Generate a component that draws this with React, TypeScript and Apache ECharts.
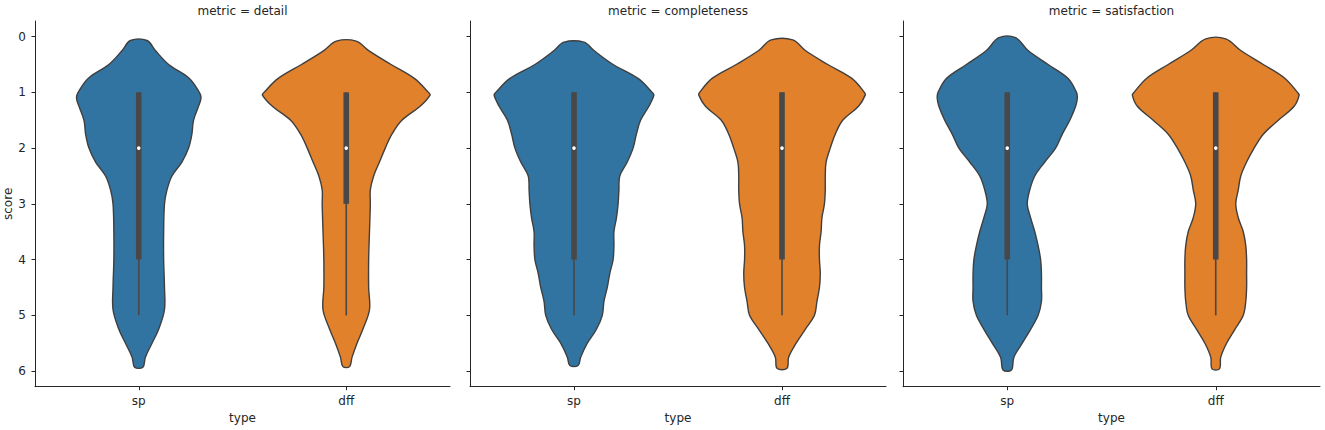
import React, { useEffect, useRef } from "react";
import * as echarts from "echarts";

const METRICS = ["detail", "completeness", "satisfaction"];
const TYPES = ["sp", "dff"];
const Y_TICKS = [0, 1, 2, 3, 4, 5, 6];
const COLORS = ["#3274a1", "#e1812c"];

// violin density profiles: [score, relative density]
const DETAIL_SP = [
  [0.07, 0.10], [0.25, 0.20], [0.5, 0.36], [0.75, 0.61], [1.0, 0.73], [1.1, 0.75],
  [1.25, 0.72], [1.5, 0.66], [1.75, 0.64], [2.0, 0.60], [2.25, 0.52], [2.5, 0.40],
  [2.75, 0.34], [3.0, 0.31], [3.5, 0.30], [4.0, 0.30], [4.5, 0.31], [4.9, 0.31],
  [5.25, 0.24], [5.5, 0.16], [5.75, 0.08], [5.93, 0.05],
];
const DETAIL_DFF = [
  [0.08, 0.12], [0.25, 0.27], [0.5, 0.54], [0.75, 0.82], [1.0, 0.99], [1.05, 1.01],
  [1.25, 0.89], [1.5, 0.67], [1.75, 0.55], [2.0, 0.47], [2.25, 0.40], [2.5, 0.33],
  [2.75, 0.29], [3.0, 0.29], [3.5, 0.28], [4.0, 0.27], [4.5, 0.27], [4.9, 0.28],
  [5.25, 0.20], [5.5, 0.13], [5.75, 0.07], [5.92, 0.04],
];
const COMPLETENESS_SP = [
  [0.1, 0.12], [0.25, 0.24], [0.5, 0.47], [0.75, 0.77], [1.0, 0.94], [1.05, 0.96],
  [1.25, 0.90], [1.5, 0.80], [1.75, 0.75], [2.0, 0.71], [2.25, 0.64], [2.5, 0.55],
  [2.75, 0.54], [3.0, 0.53], [3.25, 0.51], [3.5, 0.48], [3.75, 0.48], [4.0, 0.47],
  [4.25, 0.43], [4.5, 0.40], [4.75, 0.36], [5.0, 0.34], [5.25, 0.27], [5.5, 0.16],
  [5.75, 0.08], [5.9, 0.05],
];
const COMPLETENESS_DFF = [
  [0.06, 0.13], [0.25, 0.28], [0.5, 0.55], [0.75, 0.84], [1.0, 0.99], [1.05, 1.0],
  [1.25, 0.92], [1.5, 0.73], [1.75, 0.64], [2.0, 0.58], [2.25, 0.53], [2.5, 0.52],
  [2.75, 0.52], [3.0, 0.51], [3.25, 0.48], [3.5, 0.47], [3.75, 0.45], [4.0, 0.45],
  [4.25, 0.46], [4.5, 0.45], [4.75, 0.42], [5.0, 0.39], [5.25, 0.28], [5.5, 0.17],
  [5.75, 0.08], [5.95, 0.06],
];
const SATISFACTION_SP = [
  [0.02, 0.10], [0.25, 0.25], [0.5, 0.49], [0.75, 0.73], [1.0, 0.83], [1.1, 0.84],
  [1.25, 0.82], [1.5, 0.75], [1.75, 0.66], [2.0, 0.58], [2.25, 0.45], [2.5, 0.33],
  [2.75, 0.27], [3.0, 0.24], [3.25, 0.28], [3.5, 0.33], [3.75, 0.37], [4.0, 0.40],
  [4.25, 0.41], [4.5, 0.41], [4.75, 0.41], [5.0, 0.37], [5.25, 0.28], [5.5, 0.18],
  [5.75, 0.08], [5.98, 0.05],
];
const SATISFACTION_DFF = [
  [0.04, 0.12], [0.25, 0.30], [0.5, 0.57], [0.75, 0.83], [1.0, 0.98], [1.05, 1.0],
  [1.25, 0.94], [1.5, 0.75], [1.75, 0.57], [2.0, 0.46], [2.25, 0.37], [2.5, 0.30],
  [2.75, 0.27], [3.0, 0.24], [3.25, 0.27], [3.5, 0.33], [3.75, 0.36], [4.0, 0.37],
  [4.25, 0.37], [4.5, 0.37], [4.75, 0.36], [5.0, 0.33], [5.25, 0.23], [5.5, 0.13],
  [5.75, 0.06], [5.96, 0.045],
];

// box stats: [whiskerLow, q1, median, q3, whiskerHigh]
const DETAIL_SP_BOX = [1, 1, 2, 4, 5];
const DETAIL_DFF_BOX = [1, 1, 2, 3, 5];
const COMPLETENESS_SP_BOX = [1, 1, 2, 4, 5];
const COMPLETENESS_DFF_BOX = [1, 1, 2, 4, 5];
const SATISFACTION_SP_BOX = [1, 1, 2, 4, 5];
const SATISFACTION_DFF_BOX = [1, 1, 2, 4, 5];

const PROFILES = [
  [DETAIL_SP, DETAIL_DFF],
  [COMPLETENESS_SP, COMPLETENESS_DFF],
  [SATISFACTION_SP, SATISFACTION_DFF],
];
const BOXES = [
  [DETAIL_SP_BOX, DETAIL_DFF_BOX],
  [COMPLETENESS_SP_BOX, COMPLETENESS_DFF_BOX],
  [SATISFACTION_SP_BOX, SATISFACTION_DFF_BOX],
];

const GRIDS = [
  { left: 35, width: 415 },
  { left: 470, width: 416 },
  { left: 903, width: 417 },
];
const GRID_TOP = 21;
const GRID_HEIGHT = 365.7;
const TEXT = "#262626";
const LINE_GRAY = "#3f3f3f";
const BOX_GRAY = "#484848";
const FONT = "DejaVu Sans";

export default function App() {
  const ref = useRef<HTMLDivElement>(null);

  useEffect(() => {
    if (!ref.current) return;
    const chart = echarts.init(ref.current, undefined, { renderer: "svg" });

    const makeRender = (p: number) => (params: any, api: any) => {
      const i = params.dataIndex;
      const prof = PROFILES[p][i];
      const box = BOXES[p][i];
      const cx = api.coord([i, 0])[0];
      const bw = api.size([1, 0])[0];
      const scale = 0.4 * bw;
      const yOf = (s: number) => api.coord([i, s])[1];
      const leftPts = prof.map(([s, d]) => [cx - d * scale, yOf(s)]);
      const rightPts = prof
        .slice()
        .reverse()
        .map(([s, d]) => [cx + d * scale, yOf(s)]);
      const [wLo, q1, med, q3, wHi] = box;
      return {
        type: "group",
        children: [
          {
            type: "polygon",
            shape: { points: leftPts.concat(rightPts), smooth: 0.35 },
            style: { fill: COLORS[i], stroke: LINE_GRAY, lineWidth: 1.4 },
          },
          {
            type: "line",
            shape: { x1: cx, y1: yOf(wLo), x2: cx, y2: yOf(wHi) },
            style: { stroke: BOX_GRAY, lineWidth: 1.6 },
          },
          {
            type: "rect",
            shape: { x: cx - 2.8, y: yOf(q1), width: 5.6, height: yOf(q3) - yOf(q1) },
            style: { fill: BOX_GRAY },
          },
          {
            type: "circle",
            shape: { cx, cy: yOf(med), r: 1.8 },
            style: { fill: "#ffffff" },
          },
        ],
      };
    };

    const option: any = {
      animation: false,
      grid: GRIDS.map((g) => ({
        left: g.left,
        top: GRID_TOP,
        width: g.width,
        height: GRID_HEIGHT,
      })),
      xAxis: GRIDS.map((_, p) => ({
        type: "category",
        gridIndex: p,
        position: "bottom",
        data: TYPES,
        boundaryGap: true,
        name: "type",
        nameLocation: "middle",
        nameGap: 25,
        nameTextStyle: { color: TEXT, fontSize: 12, fontFamily: FONT },
        axisLine: { show: true, onZero: false, lineStyle: { color: TEXT, width: 1 } },
        axisTick: { show: true, alignWithLabel: true, length: 3.5, lineStyle: { color: TEXT, width: 1 } },
        axisLabel: { color: TEXT, fontSize: 12, fontFamily: FONT, margin: 8 },
        splitLine: { show: false },
      })),
      yAxis: GRIDS.map((_, p) => ({
        type: "value",
        gridIndex: p,
        inverse: true,
        min: -0.28,
        max: 6.28,
        name: p === 0 ? "score" : "",
        nameLocation: "middle",
        nameRotate: 90,
        nameGap: 21,
        nameTextStyle: { color: TEXT, fontSize: 12, fontFamily: FONT },
        axisLine: { show: true, onZero: false, lineStyle: { color: TEXT, width: 1 } },
        axisTick: {
          show: true,
          length: 3.5,
          customValues: Y_TICKS,
          lineStyle: { color: TEXT, width: 1 },
        },
        axisLabel: {
          show: p === 0,
          customValues: Y_TICKS,
          color: TEXT,
          fontSize: 12,
          fontFamily: FONT,
          margin: 9,
        },
        splitLine: { show: false },
      })),
      graphic: METRICS.map((m, p) => ({
        type: "text",
        x: GRIDS[p].left + GRIDS[p].width / 2,
        y: 11,
        style: {
          text: `metric = ${m}`,
          fill: TEXT,
          fontSize: 12,
          fontFamily: FONT,
          textAlign: "center",
          textVerticalAlign: "middle",
        },
      })),
      series: METRICS.map((m, p) => ({
        type: "custom",
        name: m,
        xAxisIndex: p,
        yAxisIndex: p,
        coordinateSystem: "cartesian2d",
        data: TYPES.map((_, i) => [i, 2]),
        encode: { x: 0, y: 1 },
        renderItem: makeRender(p),
        silent: true,
      })),
    };

    chart.setOption(option);
    return () => chart.dispose();
  }, []);

  return (
    <div
      ref={ref}
      style={{ position: "absolute", left: 0, top: 0, width: 1325, height: 430 }}
    />
  );
}
